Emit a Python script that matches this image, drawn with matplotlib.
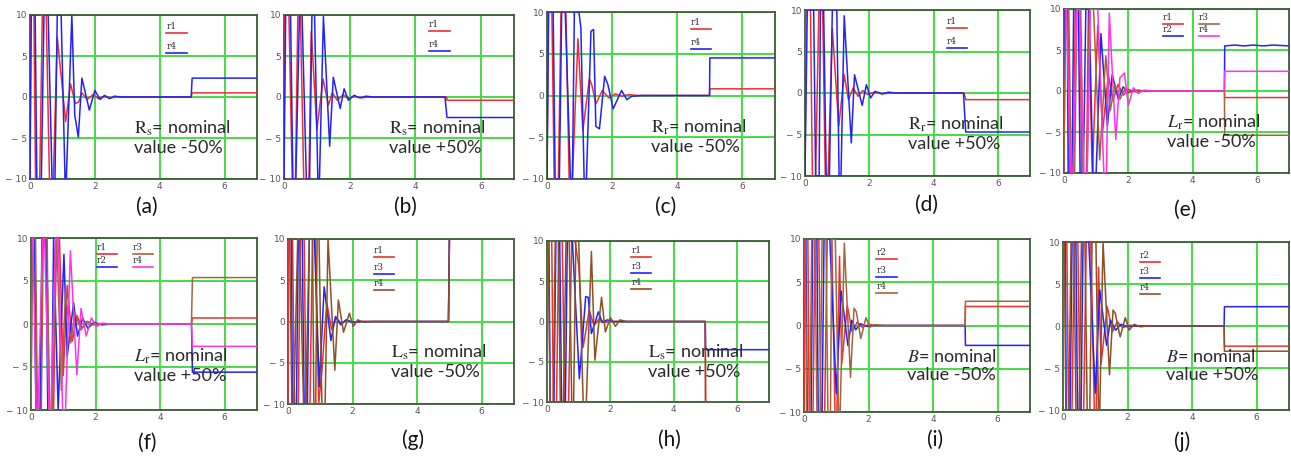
import numpy as np
import matplotlib.pyplot as plt

plt.rcParams['mathtext.fontset'] = 'stix'

# ---- data: (time, value) breakpoints ----
a_r1 = [(0, -10), (0.02, 10), (0.12, 10), (0.17, -10), (0.3, -10), (0.38, 10), (0.5, 10), (0.6, -10), (0.72, -10),
        (0.84, 7.3), (1.1, -3), (1.25, 1.6), (1.4, -0.8), (1.5, -0.6), (1.6, 0.5), (1.76, -0.3), (1.95, 0.3),
        (2.1, -0.2), (2.3, 0.1), (2.5, -0.1), (2.7, 0), (4.97, 0), (5.0, 0.5), (7, 0.5)]
a_r4 = [(0, -10), (0.04, 10), (0.16, 10), (0.21, -10), (0.35, -10), (0.43, 10), (0.56, 10), (0.68, -10), (0.77, -10),
        (0.84, 10), (0.96, 10), (1.08, -10), (1.12, -10), (1.29, 10), (1.38, -2.2), (1.49, -4.9), (1.6, 2.3),
        (1.83, -1.6), (2.0, 0.8), (2.16, -0.3), (2.3, 0.2), (2.45, -0.2), (2.6, 0.1), (2.8, 0), (4.97, 0),
        (5.0, 2.3), (7, 2.3)]

b_r1 = [(0, -10), (0.02, 10), (0.15, 10), (0.25, -10), (0.35, -10), (0.42, 10), (0.5, 10), (0.6, -10), (0.76, -10),
        (0.83, 8), (1.0, -4), (1.19, 2.2), (1.35, -1), (1.47, 0.5), (1.62, -0.4), (1.8, 0.3), (1.96, -0.2),
        (2.15, 0.1), (2.35, -0.1), (2.6, 0), (4.95, 0), (4.96, -0.4), (7, -0.4)]
b_r4 = [(0, -10), (0.05, 10), (0.2, 10), (0.27, -10), (0.36, -10), (0.47, 10), (0.55, 10), (0.68, -10), (0.78, -10),
        (0.85, 10), (0.93, 10), (1.03, -10), (1.08, -10), (1.2, 9.8), (1.39, -6), (1.5, 2.4), (1.71, -1.4),
        (1.83, 1.0), (1.96, -0.4), (2.13, 0.2), (2.3, -0.1), (2.5, 0.1), (2.7, 0), (4.9, 0), (4.96, -2.5), (7, -2.5)]

c_r1 = [(0, -10), (0.04, 10), (0.15, 10), (0.22, -10), (0.35, -10), (0.43, 10), (0.58, 10), (0.68, -10), (0.78, -10),
        (0.95, 6.8), (1.1, -4.2), (1.3, 2.0), (1.38, 1.2), (1.5, -1.0), (1.7, 0.6), (1.9, -0.3), (2.1, 0.2),
        (2.3, -0.1), (2.5, 0.1), (2.8, 0), (4.99, 0), (5.0, 0.8), (7, 0.8)]
c_r4 = [(0, -10), (0.05, 10), (0.19, 10), (0.25, -10), (0.38, -10), (0.45, 10), (0.56, 10), (0.72, -10), (0.78, -10),
        (0.84, 10), (0.98, 10), (1.04, 8.1), (1.14, -10), (1.21, -10), (1.35, 7.7), (1.43, 7.9), (1.5, -3.7),
        (1.61, -4.0), (1.77, 2.3), (1.87, 1.3), (2.03, -1.6), (2.29, 0.6), (2.45, -0.5), (2.6, -0.1), (2.9, 0),
        (4.99, 0), (5.0, 4.5), (7, 4.5)]

d_r1 = [(0, -10), (0.03, 10), (0.17, 10), (0.23, -10), (0.33, -10), (0.43, 10), (0.55, 10), (0.63, -10), (0.72, -10),
        (0.85, 7.8), (1.05, -4), (1.22, 2.2), (1.35, -0.8), (1.5, 0.6), (1.65, -0.4), (1.8, 0.3), (1.95, -0.2),
        (2.15, 0.1), (2.4, -0.1), (2.7, 0), (4.95, 0), (5.0, -0.8), (7, -0.8)]
d_r4 = [(0, -10), (0.07, 10), (0.27, 10), (0.33, -10), (0.44, -10), (0.48, 10), (0.58, 10), (0.66, -10), (0.76, -10),
        (0.85, 10), (0.99, 10), (1.06, -10), (1.12, -10), (1.22, 9.3), (1.44, -6), (1.54, 2.2), (1.78, -1.5),
        (1.91, 1.0), (2.04, -0.6), (2.18, 0.2), (2.4, -0.1), (2.6, 0.1), (2.8, 0), (4.93, 0), (5.0, -4.7), (7, -4.7)]

e_r1 = [(0, -10), (0.02, 10), (0.12, 10), (0.17, -10), (0.3, -10), (0.35, 10), (0.5, 10), (0.55, -10), (0.7, -10),
        (0.76, 10), (0.88, -10), (1.05, 8), (1.2, -5), (1.38, 2), (1.52, -1.2), (1.68, 0.8), (1.85, -0.5),
        (2.0, 0.2), (2.2, -0.1), (2.5, 0), (4.99, 0), (5.0, -0.8), (7, -0.8)]
e_r2 = [(0, -10), (0.03, 10), (0.1, 10), (0.13, -10), (0.25, -10), (0.3, 10), (0.45, 10), (0.5, -10), (0.6, -10),
        (0.68, 10), (0.78, 10), (0.9, -10), (1.0, -10), (1.15, 7), (1.35, -4.3), (1.5, 2.0), (1.69, -1.0),
        (1.84, 0.5), (2.0, -0.2), (2.2, 0.1), (2.5, 0), (4.99, 0), (5.0, 5.5), (5.3, 5.6), (5.6, 5.5),
        (5.9, 5.6), (6.2, 5.5), (6.5, 5.6), (7, 5.5)]
e_r3 = [(0, -10), (0.05, 10), (0.15, 10), (0.22, -10), (0.33, -10), (0.4, 10), (0.52, 10), (0.6, -10), (0.72, -10),
        (0.8, 10), (0.92, 10), (1.11, -8.4), (1.3, 4.3), (1.44, -2.4), (1.58, 0.8), (1.74, -1.0), (1.9, 0.3),
        (2.05, -0.2), (2.3, 0.1), (2.6, 0), (4.99, 0), (5.0, -5.4), (7, -5.4)]
e_r4 = [(0, 10), (0.08, 10), (0.2, -10), (0.28, -10), (0.4, 10), (0.48, 10), (0.62, -10), (0.72, -10), (0.82, 10),
        (1.05, 10), (1.24, -10), (1.32, -10), (1.41, 9.5), (1.61, -5.9), (1.74, 1.6), (1.88, 2.2), (2.0, -1.8),
        (2.16, 0.4), (2.3, -0.3), (2.5, 0.1), (2.8, 0), (4.99, 0), (5.0, 2.4), (7, 2.4)]

f_r1 = [(0, -10), (0.03, 10), (0.12, 10), (0.18, -10), (0.3, -10), (0.36, 10), (0.48, 10), (0.58, -10), (0.7, -10),
        (0.78, 10), (0.88, 10), (1.0, -6), (1.12, 4.5), (1.28, -2), (1.42, 1), (1.58, -0.5), (1.75, 0.3),
        (1.95, -0.1), (2.2, 0), (4.97, 0), (5.0, 0.7), (7, 0.7)]
f_r2 = [(0, -10), (0.03, 10), (0.1, 10), (0.15, -10), (0.28, -10), (0.34, 10), (0.46, 10), (0.52, -10), (0.64, -10),
        (0.7, 10), (0.84, -10), (1.02, 8.1), (1.12, -3.8), (1.32, 2.5), (1.44, -1.4), (1.6, 0.7), (1.76, -0.5),
        (1.95, 0.2), (2.2, -0.1), (2.5, 0), (4.97, 0), (5.0, -5.6), (7, -5.6)]
f_r3 = [(0, -10), (0.04, 10), (0.14, 10), (0.2, -10), (0.32, -10), (0.38, 10), (0.5, 10), (0.56, -10), (0.66, -10),
        (0.8, 10), (0.94, -7.7), (1.07, 3.8), (1.23, -2.2), (1.36, 1.3), (1.55, -0.7), (1.71, 0.3), (1.9, -0.1),
        (2.1, 0.05), (2.4, 0), (4.97, 0), (5.0, 5.4), (7, 5.4)]
f_r4 = [(0, 10), (0.06, 10), (0.16, -10), (0.22, -10), (0.36, 10), (0.42, 10), (0.56, -10), (0.62, -10), (0.76, 10),
        (0.84, 10), (0.98, -10), (1.07, -10), (1.22, 8.5), (1.42, -5.9), (1.55, 1.8), (1.71, -1.4), (1.87, 0.7),
        (2.03, -0.3), (2.2, 0.1), (2.5, 0), (4.97, 0), (5.0, -2.6), (7, -2.6)]

g_r1 = [(0, -10), (0.02, 10), (0.14, 10), (0.2, -10), (0.32, -10), (0.38, 10), (0.5, 10), (0.56, -10), (0.68, -10),
        (0.76, 10), (0.84, 10), (0.95, -10), (1.05, -6), (1.2, 2.3), (1.35, -1), (1.5, 0.5), (1.65, -0.3),
        (1.8, 0.2), (2.0, -0.1), (2.3, 0), (4.97, 0), (5.0, 10), (7, 10)]
g_r3 = [(0, 10), (0.1, 10), (0.14, -10), (0.26, -10), (0.32, 10), (0.44, 10), (0.5, -10), (0.6, -10), (0.66, 10),
        (0.82, 10), (0.97, -7.9), (1.12, 4.2), (1.33, -2.3), (1.47, 0.6), (1.63, -0.4), (1.8, 0.2), (2.0, -0.1),
        (2.3, 0), (4.97, 0), (5.0, 10), (7, 10)]
g_r4 = [(0, 10), (0.05, 10), (0.12, -10), (0.18, -10), (0.3, 10), (0.36, 10), (0.48, -10), (0.55, -10), (0.66, 10),
        (0.76, 10), (0.8, -10), (0.86, -10), (0.9, 10), (0.96, 10), (1.05, -10), (1.15, -10), (1.24, 10),
        (1.45, -5.9), (1.56, 2.6), (1.72, -1.3), (1.9, 1.0), (2.02, -0.6), (2.16, 0.2), (2.35, -0.1), (2.6, 0),
        (4.97, 0), (5.0, 10), (7, 10)]

h_r1 = [(0, -10), (0.03, 10), (0.15, 10), (0.2, -10), (0.3, -10), (0.37, 10), (0.48, 10), (0.56, -10), (0.68, -10),
        (0.78, 10), (0.88, 10), (1.0, 7), (1.14, -3.2), (1.33, 1.4), (1.48, -0.5), (1.64, 0.3), (1.8, -0.1),
        (2.1, 0), (4.99, 0), (5.0, -10), (7, -10)]
h_r3 = [(0, 10), (0.06, 10), (0.1, -10), (0.22, -10), (0.28, 10), (0.4, 10), (0.46, -10), (0.58, -10), (0.64, 10),
        (0.8, 10), (1.02, -7.1), (1.22, 3.1), (1.3, 3.0), (1.4, -1.5), (1.62, 1.2), (1.74, -0.1), (1.9, 0.2),
        (2.1, 0), (4.99, 0), (5.0, -3.5), (7, -3.5)]
h_r4 = [(0, 10), (0.04, 10), (0.1, -10), (0.2, -10), (0.26, 10), (0.36, 10), (0.42, -10), (0.52, -10), (0.6, 10),
        (0.7, 10), (0.78, -10), (0.84, -10), (0.91, 10), (1.0, 10), (1.14, -10), (1.24, -10), (1.4, 8.7),
        (1.51, -4.8), (1.72, 3.0), (1.84, -1.3), (2.0, 0.5), (2.16, -0.6), (2.3, 0.2), (2.5, 0), (4.99, 0),
        (5.0, -10), (7, -10)]

i_r2 = [(0, -10), (0.02, 10), (0.12, 10), (0.16, -10), (0.28, -10), (0.34, 10), (0.46, 10), (0.52, -10), (0.64, -10),
        (0.72, 10), (0.86, 10), (0.96, -10), (1.02, -10), (1.1, 8), (1.17, -4.4), (1.34, 2.3), (1.49, -0.7),
        (1.65, 0.4), (1.8, -0.2), (2.0, 0.1), (2.3, 0), (4.99, 0), (5.0, 2.2), (7, 2.2)]
i_r3 = [(0, 10), (0.06, 10), (0.1, -10), (0.22, -10), (0.27, 10), (0.4, 10), (0.44, -10), (0.56, -10), (0.62, 10),
        (0.8, 10), (1.0, -7.9), (1.15, 4.0), (1.36, -2.3), (1.48, 0.6), (1.6, -0.5), (1.75, 0.2), (1.95, -0.1),
        (2.2, 0), (4.99, 0), (5.0, -2.3), (7, -2.3)]
i_r4 = [(0, 10), (0.04, 10), (0.08, -10), (0.18, -10), (0.24, 10), (0.34, 10), (0.4, -10), (0.5, -10), (0.56, 10),
        (0.68, 10), (0.74, -10), (0.82, -10), (0.86, 10), (0.97, 10), (1.07, -10), (1.12, -10), (1.25, 9.5),
        (1.44, -6), (1.55, 2.0), (1.62, 1.6), (1.76, -1.5), (1.92, 0.9), (2.04, -0.2), (2.2, 0.1), (2.5, 0),
        (4.99, 0), (5.0, 2.8), (7, 2.8)]

j_r2 = [(0, -10), (0.02, 10), (0.12, 10), (0.17, -10), (0.28, -10), (0.35, 10), (0.46, 10), (0.53, -10), (0.64, -10),
        (0.72, 10), (0.86, 10), (0.97, -10), (1.03, -10), (1.1, 7), (1.18, -4.5), (1.37, 2.3), (1.53, -0.7),
        (1.68, 0.5), (1.85, -0.2), (2.05, 0.1), (2.3, 0), (4.99, 0), (5.0, -2.4), (7, -2.4)]
j_r3 = [(0, 10), (0.07, 10), (0.1, -10), (0.22, -10), (0.28, 10), (0.4, 10), (0.45, -10), (0.56, -10), (0.62, 10),
        (0.8, 10), (1.0, -8), (1.14, 4.3), (1.35, -2.3), (1.47, 0.7), (1.63, -0.5), (1.8, 0.2), (2.0, -0.1),
        (2.2, 0), (4.99, 0), (5.0, 2.3), (7, 2.3)]
j_r4 = [(0, 10), (0.04, 10), (0.09, -10), (0.18, -10), (0.25, 10), (0.34, 10), (0.4, -10), (0.5, -10), (0.57, 10),
        (0.68, 10), (0.75, -10), (0.83, -10), (0.9, 10), (1.02, 10), (1.1, -10), (1.14, -10), (1.24, 10),
        (1.44, -5.8), (1.55, 1.9), (1.62, 1.5), (1.77, -1.3), (1.93, 1.0), (2.05, -0.5), (2.2, 0.2), (2.4, -0.1),
        (2.6, 0), (4.99, 0), (5.0, -3.0), (7, -3.0)]

captions = ['(a)', '(b)', '(c)', '(d)', '(e)', '(f)', '(g)', '(h)', '(i)', '(j)']
notes = [r'$\mathrm{R}_\mathrm{s}$= nominal' + '\nvalue -50%',
         r'$\mathrm{R}_\mathrm{s}$= nominal' + '\nvalue +50%',
         r'$\mathrm{R}_\mathrm{r}$= nominal' + '\nvalue -50%',
         r'$\mathrm{R}_\mathrm{r}$= nominal' + '\nvalue +50%',
         r'$L_\mathrm{r}$= nominal' + '\nvalue -50%',
         r'$L_\mathrm{r}$= nominal' + '\nvalue +50%',
         r'$\mathrm{L}_\mathrm{s}$= nominal' + '\nvalue -50%',
         r'$\mathrm{L}_\mathrm{s}$= nominal' + '\nvalue +50%',
         r'$B$= nominal' + '\nvalue -50%',
         r'$B$= nominal' + '\nvalue +50%']

RED = '#ee3030'
BLUE = '#2222ff'
BROWN = '#a2663c'
DBROWN = '#8e5026'
MAG = '#ff33e6'

# series per panel: (label, data, colour, legend x, legend y) in axes fraction
panels = [
    [('r1', a_r1, RED, 0.60, 0.89), ('r4', a_r4, BLUE, 0.60, 0.77)],
    [('r1', b_r1, RED, 0.63, 0.90), ('r4', b_r4, BLUE, 0.63, 0.78)],
    [('r1', c_r1, RED, 0.63, 0.90), ('r4', c_r4, BLUE, 0.63, 0.78)],
    [('r1', d_r1, RED, 0.63, 0.89), ('r4', d_r4, BLUE, 0.63, 0.77)],
    [('r1', e_r1, RED, 0.44, 0.91), ('r2', e_r2, BLUE, 0.44, 0.835),
     ('r3', e_r3, BROWN, 0.60, 0.91), ('r4', e_r4, MAG, 0.60, 0.835)],
    [('r1', f_r1, RED, 0.29, 0.905), ('r2', f_r2, BLUE, 0.29, 0.83),
     ('r3', f_r3, BROWN, 0.45, 0.905), ('r4', f_r4, MAG, 0.45, 0.83)],
    [('r1', g_r1, RED, 0.38, 0.89), ('r3', g_r3, BLUE, 0.38, 0.79), ('r4', g_r4, DBROWN, 0.38, 0.69)],
    [('r1', h_r1, RED, 0.38, 0.90), ('r3', h_r3, BLUE, 0.38, 0.80), ('r4', h_r4, DBROWN, 0.38, 0.70)],
    [('r2', i_r2, RED, 0.32, 0.885), ('r3', i_r3, BLUE, 0.32, 0.78), ('r4', i_r4, BROWN, 0.32, 0.69)],
    [('r2', j_r2, RED, 0.34, 0.88), ('r3', j_r3, BLUE, 0.34, 0.786), ('r4', j_r4, DBROWN, 0.34, 0.69)],
]

# axes boxes in pixels (left, top, right, bottom) and caption centres
W, H = 1291, 459
boxes = [(30, 15, 257, 179), (284, 15, 514, 179), (547, 12, 775, 179), (805, 10, 1030, 176),
         (1064, 9, 1289, 173),
         (31, 238, 257, 410), (288, 239, 514, 404), (547, 241, 769, 402), (804, 239, 1030, 412),
         (1063, 242, 1289, 410)]
cap_pos = [(147, 207), (405, 207), (666, 207), (927, 205), (1185, 210),
           (147, 443), (413, 440), (669, 440), (935, 440), (1182, 442)]

fig = plt.figure(figsize=(W / 100, H / 100), dpi=100)

for k in range(10):
    l, t, r, b = boxes[k]
    ax = fig.add_axes([l / W, 1 - b / H, (r - l) / W, (b - t) / H])
    ax.set_xlim(0, 7)
    ax.set_ylim(-10, 10)
    ax.set_xticks([0, 2, 4, 6])
    ax.set_yticks([-10, -5, 0, 5, 10])
    ax.set_yticklabels(['\u2212 10', '\u2212 5', '0', '5', '10'])
    ax.tick_params(length=0, labelsize=6.5, labelcolor='#555555', pad=2)
    ax.grid(True, color='#44dd44', lw=1.4)
    ax.set_axisbelow(True)
    for s in ax.spines.values():
        s.set_color('#3d5a35')
        s.set_linewidth(1.3)
        s.set_zorder(1.5)

    for lab, pts, col, lx, ly in panels[k]:
        arr = np.array(pts, dtype=float)
        ax.plot(arr[:, 0], arr[:, 1], color=col, lw=1.1, zorder=3)
        ax.plot([lx, lx + 0.09], [ly, ly], color=col, lw=1.2, transform=ax.transAxes, zorder=4)
        ax.text(lx, ly + 0.012, lab, transform=ax.transAxes, fontsize=6.5, family='DejaVu Serif',
                color='#333333', va='bottom', ha='left', zorder=4)

    ax.text(3.2, -2.6, notes[k], fontsize=13, family='Lato', color='#2a2a2a', va='top',
            ha='left', linespacing=1.15, zorder=5)

    cx, cy = cap_pos[k]
    fig.text(cx / W, 1 - cy / H, captions[k], fontsize=15, family='Lato', color='#111111',
             ha='center', va='center')

fig.savefig('out.png', dpi=100)
